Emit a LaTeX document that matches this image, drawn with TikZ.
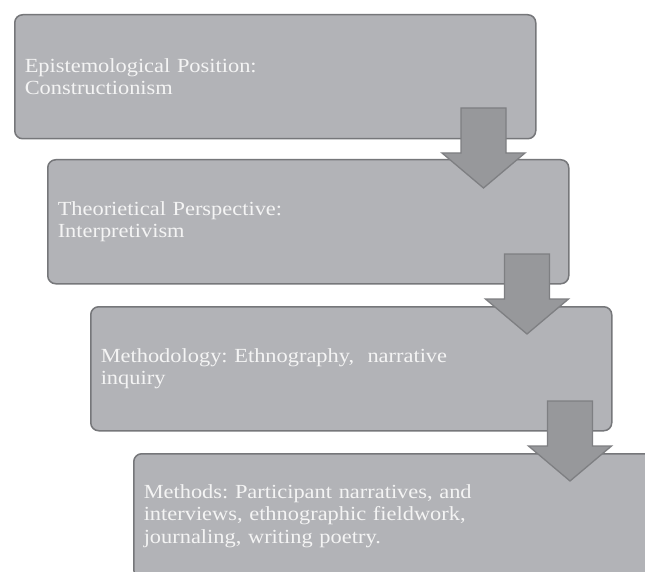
\documentclass[tikz,border=0pt]{standalone}
\usepackage{fontspec}
\setmainfont[FakeStretch=1.12]{Liberation Serif}
\frenchspacing
\definecolor{boxfill}{HTML}{B2B3B7}
\definecolor{boxline}{HTML}{76777A}
\definecolor{arrfill}{HTML}{97989B}
\definecolor{arrline}{HTML}{7E7F82}
\definecolor{txt}{HTML}{F4F4F4}
\tikzset{
  stepbox/.style={draw=boxline, line width=1.5pt, fill=boxfill, rounded corners=8pt,
    anchor=north west, minimum width=521pt, minimum height=124pt,
    text width=501pt, inner xsep=10pt, align=left, text=txt,
    font=\fontsize{20}{22.5}\selectfont},
  blockarrow/.style={draw=arrline, line width=1.3pt, fill=arrfill},
  downarrow/.pic={\draw[blockarrow] (-22.5,0) -- (22.5,0) -- (22.5,45) -- (41.5,45)
     -- (0,80) -- (-41.5,45) -- (-22.5,45) -- cycle;}
}
\begin{document}
\begin{tikzpicture}[x=1pt,y=-1pt]
\useasboundingbox (0,0) rectangle (645,572);
\clip (0,0) rectangle (645,572);
\fill[white] (0,0) rectangle (645,572);
\node[stepbox] (b1) at (14,14) {Epistemological Position:\\Constructionism};
\node[stepbox] (b2) at (47,159) {Theorietical Perspective:\\Interpretivism};
\node[stepbox] (b3) at (90,306) {Methodology: Ethnography,\ \ narrative\\inquiry};
\node[stepbox] (b4) at (133,453) {Methods: Participant narratives, and\\interviews, ethnographic fieldwork,\\journaling, writing poetry.};
\coordinate (a1) at (483.5,108);
\coordinate (a2) at (527,254);
\coordinate (a3) at (570,401);
\pic at (a1) {downarrow};
\pic at (a2) {downarrow};
\pic at (a3) {downarrow};
\end{tikzpicture}
\end{document}
